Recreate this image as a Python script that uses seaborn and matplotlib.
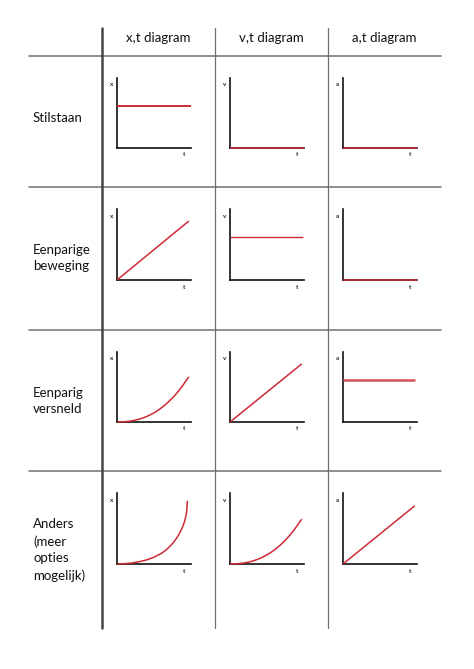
import matplotlib
matplotlib.use("Agg")
import matplotlib.pyplot as plt
from matplotlib.lines import Line2D
import seaborn as sns
import pandas as pd

sns.set_theme(style="white")
plt.rcParams['font.family'] = ['Lato', 'DejaVu Sans']

# ---------------- data ----------------
row_labels = ["Stilstaan", "Eenparige\nbeweging", "Eenparig\nversneld",
              "Anders\n(meer\nopties\nmogelijk)"]
col_labels = ["x,t diagram", "v,t diagram", "a,t diagram"]
axis_names = ["x", "v", "a"]
time_label = "t"

# Stilstaan
stil_x_t = [0.0, 1.0]
stil_x_val = [0.6, 0.6]
stil_v_t = [0.0, 1.0]
stil_v_val = [0.0, 0.0]
stil_a_t = [0.0, 1.0]
stil_a_val = [0.0, 0.0]

# Eenparige beweging
eenp_x_t = [0.0, 0.97]
eenp_x_val = [0.0, 0.83]
eenp_v_t = [0.0, 0.99]
eenp_v_val = [0.61, 0.61]
eenp_a_t = [0.0, 1.0]
eenp_a_val = [0.0, 0.0]

# Eenparig versneld
vers_x_t = [0.0, 0.05, 0.10, 0.15, 0.20, 0.25, 0.30, 0.35, 0.40, 0.45, 0.50,
            0.55, 0.60, 0.65, 0.70, 0.75, 0.80, 0.85, 0.90, 0.95, 0.97]
vers_x_val = [0.0, 0.001, 0.004, 0.009, 0.017, 0.027, 0.041, 0.058, 0.078, 0.103, 0.131,
              0.164, 0.202, 0.244, 0.292, 0.345, 0.403, 0.468, 0.539, 0.616, 0.645]
vers_v_t = [0.0, 0.97]
vers_v_val = [0.0, 0.83]
vers_a_t = [0.0, 0.97]
vers_a_val = [0.6, 0.6]

# Anders
and_x_t = [0.0, 0.10, 0.20, 0.30, 0.40, 0.50, 0.60, 0.66, 0.71, 0.76, 0.80, 0.83,
           0.86, 0.88, 0.90, 0.915, 0.93, 0.94, 0.945, 0.95]
and_x_val = [0.0, 0.004, 0.014, 0.032, 0.058, 0.095, 0.150, 0.195, 0.243, 0.300, 0.356,
             0.405, 0.462, 0.507, 0.560, 0.607, 0.668, 0.730, 0.780, 0.890]
and_v_t = [0.0, 0.05, 0.10, 0.15, 0.20, 0.25, 0.30, 0.35, 0.40, 0.45, 0.50,
           0.55, 0.60, 0.65, 0.70, 0.75, 0.80, 0.85, 0.90, 0.95, 0.97]
and_v_val = [0.0, 0.001, 0.004, 0.009, 0.016, 0.027, 0.040, 0.057, 0.077, 0.101, 0.129,
             0.161, 0.198, 0.240, 0.286, 0.338, 0.395, 0.458, 0.528, 0.604, 0.632]
and_a_t = [0.0, 0.97]
and_a_val = [0.0, 0.82]

series = [
    [(stil_x_t, stil_x_val), (stil_v_t, stil_v_val), (stil_a_t, stil_a_val)],
    [(eenp_x_t, eenp_x_val), (eenp_v_t, eenp_v_val), (eenp_a_t, eenp_a_val)],
    [(vers_x_t, vers_x_val), (vers_v_t, vers_v_val), (vers_a_t, vers_a_val)],
    [(and_x_t, and_x_val), (and_v_t, and_v_val), (and_a_t, and_a_val)],
]

# ---------------- layout (pixels) ----------------
W, H = 474, 669
fig = plt.figure(figsize=(W / 100, H / 100), dpi=100)
fig.patch.set_facecolor("white")

def fx(px):
    return px / W

def fy(py):
    return 1 - py / H

grid_gray = "#707070"
red = "#cc2a36"
red_light = "#d4585d"

# horizontal table lines
for yy in [56, 187, 330, 471]:
    fig.add_artist(Line2D([fx(29), fx(441)], [fy(yy), fy(yy)],
                          color=grid_gray, lw=1.1, transform=fig.transFigure))
# vertical table lines
fig.add_artist(Line2D([fx(102), fx(102)], [fy(28), fy(628)],
                      color="#454545", lw=1.8, transform=fig.transFigure))
for xx in [215, 328]:
    fig.add_artist(Line2D([fx(xx), fx(xx)], [fy(28), fy(628)],
                          color=grid_gray, lw=0.9, transform=fig.transFigure))

# header texts
col_centers = [158.5, 271.5, 384.5]
for cx, lab in zip(col_centers, col_labels):
    fig.text(fx(cx), fy(38), lab, ha="center", va="center", fontsize=9.5, color="#111111")

# row labels
row_centers = [118, 258, 401, 550]
for cy, lab in zip(row_centers, row_labels):
    fig.text(fx(33), fy(cy), lab, ha="left", va="center", fontsize=9.5,
             color="#111111", linespacing=1.45)

# small axes
col_left = [117, 230, 343]
ax_w = 74
row_tb = [(78, 148), (209, 280), (352, 422), (493, 564)]
red_lw = [[1.4, 1.1, 1.1], [1.1, 1.0, 1.1], [1.1, 1.1, 1.9], [1.1, 1.1, 1.1]]

for r, (top, bot) in enumerate(row_tb):
    for c, left in enumerate(col_left):
        ax = fig.add_axes([fx(left), fy(bot), ax_w / W, (bot - top) / H])
        t, v = series[r][c]
        df = pd.DataFrame({"t": t, "val": v})
        col = red_light if (r == 2 and c == 2) else red
        sns.lineplot(data=df, x="t", y="val", ax=ax, color=col,
                     lw=red_lw[r][c], sort=False, estimator=None)
        for ln in ax.lines:
            ln.set_clip_on(False)
            ln.set_zorder(5)
            ln.set_solid_capstyle("butt")
            ln.set_solid_joinstyle("round")
        ax.set_xlim(0, 1)
        ax.set_ylim(0, 1)
        ax.set_xticks([])
        ax.set_yticks([])
        ax.set_xlabel("")
        ax.set_ylabel("")
        ax.set_facecolor("none")
        for s in ["top", "right"]:
            ax.spines[s].set_visible(False)
        for s in ["left", "bottom"]:
            ax.spines[s].set_color("#111111")
            ax.spines[s].set_linewidth(1.2)
            ax.spines[s].set_zorder(2)
        ax.text(-0.07, 0.9, axis_names[c], transform=ax.transAxes,
                ha="center", va="center", fontsize=4.5, color="#222222",
                fontweight="bold")
        ax.text(0.9, -0.1, time_label, transform=ax.transAxes,
                ha="center", va="center", fontsize=4.5, color="#222222",
                fontweight="bold")

fig.savefig("out.png", dpi=100, facecolor="white")
